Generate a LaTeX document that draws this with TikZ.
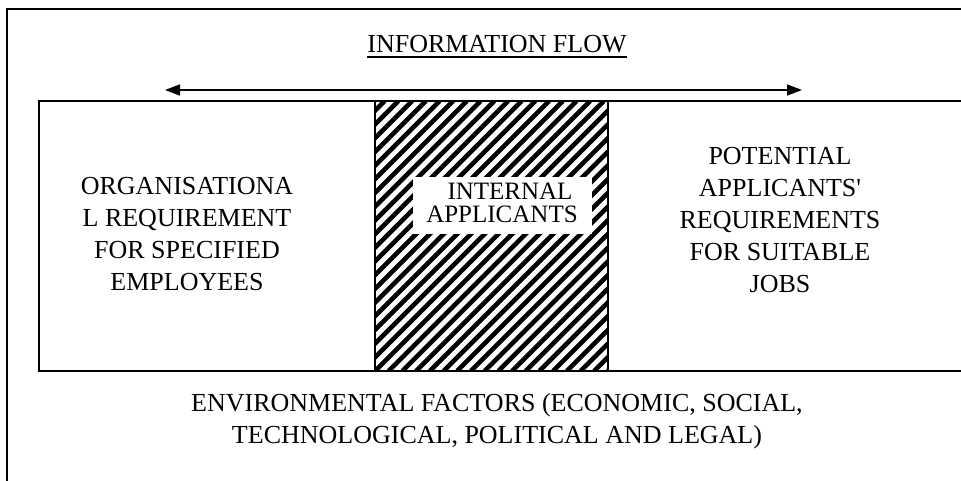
\documentclass[tikz,border=0pt]{standalone}
\usepackage{fontspec}
\setmainfont{Liberation Serif}
\usetikzlibrary{arrows.meta}
\begin{document}
\begin{tikzpicture}[x=1pt,y=-1pt,
  frame/.style={line width=2pt,line cap=rect},
  lbl/.style={inner sep=0pt,align=center,font=\fontsize{26}{32}\selectfont},
  stripe/.style={line width=4.6pt}]
\useasboundingbox (0,0) rectangle (961,481);
\clip (0,0) rectangle (961,481);
\fill[white] (0,0) rectangle (961,481);
% outer frame
\draw[frame] (6.5,500) -- (6.5,9.5) -- (980,9.5);
% hatched column
\begin{scope}
  \clip (375,101) rectangle (608,371);
  \foreach \k in {-20,...,20} {
    \draw[stripe] ({375+\k*13.7},371) -- ({375+\k*13.7+270},101);
  }
\end{scope}
% inner box
\draw[frame] (980,101) -- (39,101) -- (39,371) -- (980,371);
\draw[line width=1.5pt] (375,101) -- (375,371);
\draw[line width=1.5pt] (608,101) -- (608,371);
% title
\node[lbl,anchor=base] (title) at (497,53) {INFORMATION FLOW};
\draw[line width=2pt] ([yshift=-4pt]title.base west) -- ([yshift=-4pt]title.base east);
% arrow
\coordinate (aL) at (165,90);
\coordinate (aR) at (802,90);
\draw[line width=1.5pt,{Triangle[length=15pt,width=11pt]}-{Triangle[length=15pt,width=11pt]}] (aL) -- (aR);
% texts
\node[lbl] (org) at (187,234) {ORGANISATIONA\\L REQUIREMENT\\FOR SPECIFIED\\EMPLOYEES};
\node[fill=white,inner sep=0pt,minimum width=179pt,minimum height=57pt] (intbox) at (502.5,205.5) {};
\node[lbl,font=\fontsize{25}{23}\selectfont] (int) at (502,203) {\hspace*{16pt}INTERNAL\\APPLICANTS};
\node[lbl] (pot) at (780,220) {POTENTIAL\\APPLICANTS\textquotesingle\\REQUIREMENTS\\FOR SUITABLE\\JOBS};
\node[lbl] (env) at (497,421) {ENVIRONMENTAL FACTORS (ECONOMIC, SOCIAL,\\TECHNOLOGICAL, POLITICAL AND LEGAL)};
\end{tikzpicture}
\end{document}
